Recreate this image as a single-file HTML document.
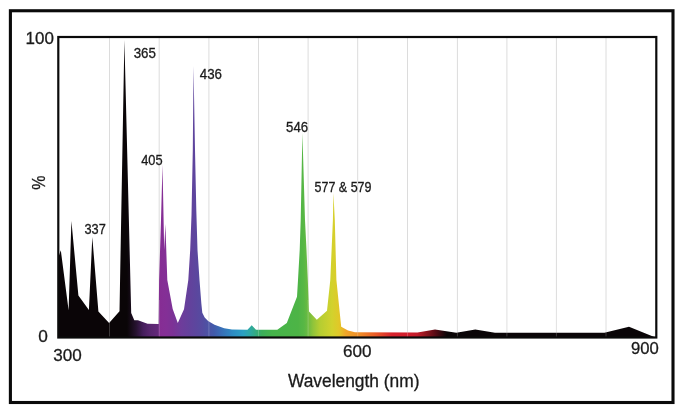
<!DOCTYPE html>
<html>
<head>
<meta charset="utf-8">
<title>Spectrum</title>
<style>
html,body{margin:0;padding:0;background:#fff;}
body{width:684px;height:411px;overflow:hidden;font-family:"Liberation Sans",sans-serif;}
svg{display:block;will-change:transform;}
text{font-family:"Liberation Sans",sans-serif;fill:#1a1a1a;stroke:#1a1a1a;stroke-width:0.3px;}
</style>
</head>
<body>
<svg width="684" height="411" viewBox="0 0 684 411">
<defs>
<linearGradient id="sp" gradientUnits="userSpaceOnUse" x1="0" y1="0" x2="684" y2="0">
<stop offset="0.0000" stop-color="#0a0507"/>
<stop offset="0.1857" stop-color="#0a0507"/>
<stop offset="0.1988" stop-color="#26122f"/>
<stop offset="0.2091" stop-color="#451e5c"/>
<stop offset="0.2193" stop-color="#58266f"/>
<stop offset="0.2316" stop-color="#64297b"/>
<stop offset="0.2333" stop-color="#862d94"/>
<stop offset="0.2427" stop-color="#842f96"/>
<stop offset="0.2529" stop-color="#7c3296"/>
<stop offset="0.2646" stop-color="#6e3c9b"/>
<stop offset="0.2763" stop-color="#64419c"/>
<stop offset="0.2953" stop-color="#554ba0"/>
<stop offset="0.3056" stop-color="#4b54a5"/>
<stop offset="0.3129" stop-color="#415aaa"/>
<stop offset="0.3216" stop-color="#3a6ab4"/>
<stop offset="0.3406" stop-color="#2d8cc3"/>
<stop offset="0.3553" stop-color="#2ba0c3"/>
<stop offset="0.3640" stop-color="#2da8aa"/>
<stop offset="0.3713" stop-color="#32aa8c"/>
<stop offset="0.3830" stop-color="#3cae5a"/>
<stop offset="0.3977" stop-color="#46b44b"/>
<stop offset="0.4357" stop-color="#4db446"/>
<stop offset="0.4444" stop-color="#58b745"/>
<stop offset="0.4503" stop-color="#6cbb41"/>
<stop offset="0.4576" stop-color="#90c43a"/>
<stop offset="0.4671" stop-color="#b4cd32"/>
<stop offset="0.4854" stop-color="#d2d22d"/>
<stop offset="0.4956" stop-color="#e1c828"/>
<stop offset="0.5058" stop-color="#f0a528"/>
<stop offset="0.5263" stop-color="#f08c28"/>
<stop offset="0.5497" stop-color="#eb5a28"/>
<stop offset="0.5731" stop-color="#d7232d"/>
<stop offset="0.5965" stop-color="#d21e2d"/>
<stop offset="0.6096" stop-color="#c31c2b"/>
<stop offset="0.6213" stop-color="#96161f"/>
<stop offset="0.6360" stop-color="#5a0c16"/>
<stop offset="0.6535" stop-color="#0a0507"/>
<stop offset="1.0000" stop-color="#0a0507"/>
</linearGradient>
<filter id="nf" x="0" y="0" width="684" height="411" filterUnits="userSpaceOnUse"><feOffset dx="0" dy="0"/></filter>
</defs>
<rect x="0" y="0" width="684" height="411" fill="#ffffff"/>
<!-- outer frame -->
<rect x="10.4" y="10.75" width="662.6" height="391.75" fill="none" stroke="#0a0a0a" stroke-width="3.1"/>
<!-- gridlines (under fill) -->
<g stroke="#dcdcdc" stroke-width="1">
<line x1="109.5" y1="37" x2="109.5" y2="337"/>
<line x1="159.2" y1="37" x2="159.2" y2="337"/>
<line x1="208.9" y1="37" x2="208.9" y2="337"/>
<line x1="258.5" y1="37" x2="258.5" y2="337"/>
<line x1="308.1" y1="37" x2="308.1" y2="337"/>
<line x1="357.7" y1="37" x2="357.7" y2="337"/>
<line x1="407.5" y1="37" x2="407.5" y2="337"/>
<line x1="457.4" y1="37" x2="457.4" y2="337"/>
<line x1="506.9" y1="37" x2="506.9" y2="337"/>
<line x1="556.4" y1="37" x2="556.4" y2="337"/>
<line x1="606.0" y1="37" x2="606.0" y2="337"/>
</g>
<!-- spectrum fill -->
<path fill="url(#sp)" d="M58.5,337.5 L58.5,257 L60.8,250.3 L68.6,310.2 L71.4,221 L78.4,295.5 L88.9,310 L92.3,237 L98.4,311.4 L109.1,323 L119.5,311.3 L124.4,40 L131.2,313 L134.3,320.3 L138,320.2 L147.5,323.8 L158.6,323.9 L159.1,280 L161,220 L162.5,164.5 L164.2,250 L165.4,224 L167.3,280 L172.7,309 L177.8,323 L184,309.2 L188.3,280 L190.2,250 L191.5,215 L192.8,150 L193.5,66 L195,150 L196.3,210 L197.5,250 L199.5,280 L201.3,303 L202.3,312.7 L204.7,317.5 L208.1,321 L214.5,324.8 L224.2,328.2 L232,329.6 L247.5,329.7 L251.7,325.3 L256,329.7 L277.3,329.7 L286.8,323.1 L297,296.8 L298,280 L299.7,250 L300.7,220 L302.4,133 L305,220 L306.5,250 L307.8,280 L309,311.4 L316.8,319.8 L327,310.7 L330.3,280 L332.9,220 L333.4,193 L334.8,220 L336.4,280 L341.2,326.8 L348,330.5 L355,332.3 L417.5,332.4 L435,329.5 L456.3,332.8 L475.3,329.5 L495,332.8 L604.4,332.8 L629,326.8 L655.5,337.5 Z"/>
<!-- gridlines (faint over fill) -->
<g stroke="#ffffff" stroke-width="1" stroke-opacity="0.2">
<line x1="109.5" y1="300" x2="109.5" y2="337"/>
<line x1="159.2" y1="300" x2="159.2" y2="337"/>
<line x1="208.9" y1="300" x2="208.9" y2="337"/>
<line x1="258.5" y1="300" x2="258.5" y2="337"/>
<line x1="308.1" y1="300" x2="308.1" y2="337"/>
<line x1="357.7" y1="300" x2="357.7" y2="337"/>
<line x1="407.5" y1="300" x2="407.5" y2="337"/>
<line x1="457.4" y1="300" x2="457.4" y2="337"/>
<line x1="506.9" y1="300" x2="506.9" y2="337"/>
<line x1="556.4" y1="300" x2="556.4" y2="337"/>
<line x1="606.0" y1="300" x2="606.0" y2="337"/>
</g>
<!-- plot frame -->
<rect x="58.3" y="37" width="598" height="300.5" fill="none" stroke="#0a0a0a" stroke-width="2.2"/>
<g filter="url(#nf)">
<!-- axis labels -->
<text x="25.6" y="43.9" font-size="17.4" textLength="28.3" lengthAdjust="spacingAndGlyphs">100</text>
<text x="38.2" y="342.4" font-size="17.4" textLength="9.6" lengthAdjust="spacingAndGlyphs">0</text>
<text x="53.2" y="360.9" font-size="17.4" textLength="28.5" lengthAdjust="spacingAndGlyphs">300</text>
<text x="343.1" y="357.2" font-size="17.4" textLength="28.5" lengthAdjust="spacingAndGlyphs">600</text>
<text x="631.0" y="353.7" font-size="17.4" textLength="27.8" lengthAdjust="spacingAndGlyphs">900</text>
<text x="287.9" y="387.4" font-size="17.6" textLength="131.6" lengthAdjust="spacingAndGlyphs">Wavelength (nm)</text>
<text transform="translate(45,189.7) rotate(-90)" font-size="17.6" textLength="14.2" lengthAdjust="spacingAndGlyphs">%</text>
<!-- peak labels -->
<g font-size="14.2">
<text x="133.7" y="57.7" textLength="22.2" lengthAdjust="spacingAndGlyphs">365</text>
<text x="199.8" y="78.6" textLength="22.2" lengthAdjust="spacingAndGlyphs">436</text>
<text x="141.2" y="165" textLength="21.4" lengthAdjust="spacingAndGlyphs">405</text>
<text x="84.5" y="234.1" textLength="21.3" lengthAdjust="spacingAndGlyphs">337</text>
<text x="286.1" y="131.9" textLength="22.0" lengthAdjust="spacingAndGlyphs">546</text>
<text x="314.5" y="192.1" textLength="57.0" lengthAdjust="spacingAndGlyphs">577 &amp; 579</text>
</g>
</g>
</svg>
</body>
</html>
